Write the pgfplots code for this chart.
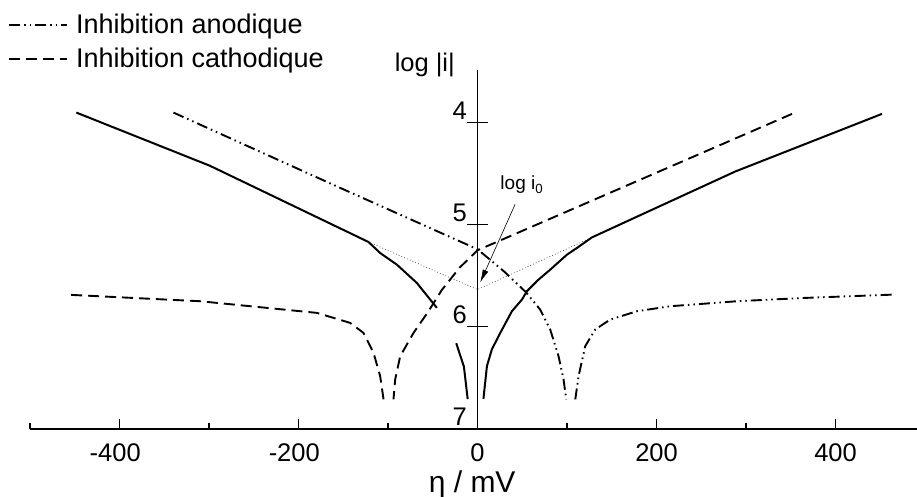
\documentclass[border=0pt]{standalone}
\usepackage{fontspec}
\setmainfont{Liberation Sans}
\usepackage{pgfplots}
\pgfplotsset{compat=1.18}
\usetikzlibrary{arrows.meta}
\newcommand\tickfont{\fontsize{25.5}{30}\selectfont}
\begin{document}
\begin{tikzpicture}
\useasboundingbox (0,0) rectangle (917pt,497pt);
\begin{axis}[
  at={(30pt,68pt)}, anchor=south west,
  scale only axis, width=887pt, height=359pt,
  xmin=-500, xmax=491, ymin=3.485, ymax=7, y dir=reverse,
  axis x line=bottom, axis y line=center,
  axis line style={-, line width=1.3pt, black},
  clip=false,
  xtick={-400,-200,0,200,400},
  xticklabels={\llap{-}400,\llap{-}200,0,200,400},
  minor xtick={-500,-300,-100,100,300},
  tick align=inside, major tick length=10pt, minor tick length=6pt,
  tick style={line width=1.2pt, black},
  xticklabel style={font=\tickfont, anchor=north, inner sep=0pt, yshift=-14pt},
  ytick=\empty,
  extra y ticks={4,5,6,7},
  extra y tick labels={4,5,6,7},
  extra y tick style={tick align=center, major tick length=21pt,
     yticklabel style={font=\tickfont, anchor=east, inner sep=0pt, yshift=12pt}},
  xlabel={η / mV},
  ylabel={log |i|},
  every axis x label/.style={at={(axis description cs:0.4985,0)}, anchor=base, yshift=-63pt, font=\fontsize{30}{36}\selectfont},
  every axis y label/.style={at={(axis description cs:0.5043,1)}, anchor=base east, xshift=-19pt, yshift=-2pt, font=\tickfont},
  legend style={at={(axis description cs:-0.0248,1.1616)}, anchor=north west, draw=none, fill=none, inner sep=0pt,
     font=\fontsize{27}{32}\selectfont, row sep=9pt,
     /tikz/every odd column/.append style={column sep=6pt}},
  legend cell align=left,
  legend image code/.code={\draw[#1] (0pt,0pt) -- (58pt,0pt);},
]
% measured curve (solid)
\addplot[black, line width=2pt, forget plot] coordinates {
 (-448.2,3.902) (-298.9,4.423) (-121.8,5.169) (-108.8,5.277) (-90.1,5.391)
 (-67.8,5.570) (-45.4,5.814)};
\addplot[black, line width=2pt, forget plot] coordinates {
 (-23.8,6.160) (-15.2,6.390) (-11.0,6.707)};
\addplot[black, line width=2pt, forget plot] coordinates {
 (6.6,6.704) (10.5,6.384) (16.0,6.221) (25.4,6.059) (38.4,5.847) (49.6,5.733)
 (55.2,5.651) (68.2,5.537) (81.2,5.440) (99.9,5.293) (111.0,5.228) (127.8,5.124)
 (287.9,4.479) (451.8,3.915)};
% Tafel extrapolation (dotted)
\addplot[black!85, line width=0.6pt, dash pattern=on 0.8pt off 2.2pt, forget plot] coordinates {
 (-121.8,5.169) (0,5.635) (127.8,5.124)};
% anodic inhibition
\addplot[black, line width=1.9pt, dash pattern=on 11pt off 4pt on 1.5pt off 4pt on 1.5pt off 4pt] coordinates {
 (-339.7,3.902) (-160.9,4.610) (0,5.240) (30,5.46) (54,5.66) (70.0,5.831)
 (81.2,6.026) (90.5,6.287) (96.1,6.515) (99.1,6.710)};
\addlegendentry{Inhibition anodique}
\addplot[black, line width=1.9pt, dash pattern=on 11pt off 4pt on 1.5pt off 4pt on 1.5pt off 4pt, forget plot] coordinates {
 (109.2,6.710) (112.9,6.482) (120.3,6.189) (131.5,6.026) (148.3,5.928)
 (178.1,5.847) (215.3,5.798) (289.8,5.749) (364.3,5.717) (464.8,5.684)};
% cathodic inhibition
\addplot[black, line width=1.9pt, dash pattern=on 11pt off 6pt] coordinates {
 (351.3,3.915) (0,5.250) (-20,5.42) (-40,5.64) (-55,5.85) (-71.5,6.059)
 (-86.4,6.287) (-92.0,6.515) (-93.9,6.710)};
\addlegendentry{Inhibition cathodique}
\addplot[black, line width=1.9pt, dash pattern=on 11pt off 6pt, forget plot] coordinates {
 (-105.0,6.710) (-108.8,6.482) (-116.2,6.254) (-127.4,6.059) (-142.3,5.961)
 (-179.5,5.863) (-235.4,5.814) (-309.9,5.749) (-384.4,5.717) (-460.7,5.684)};
% annotation
\node[anchor=base west, inner sep=0pt, font=\fontsize{19}{22}\selectfont] at (axis cs:25.4,4.658) {log i\textsubscript{0}};
\draw[line width=0.6pt, -{Latex[length=13pt,width=6pt]}] (axis cs:42,4.80) -- (axis cs:3,5.565);
\end{axis}
\end{tikzpicture}
\end{document}
